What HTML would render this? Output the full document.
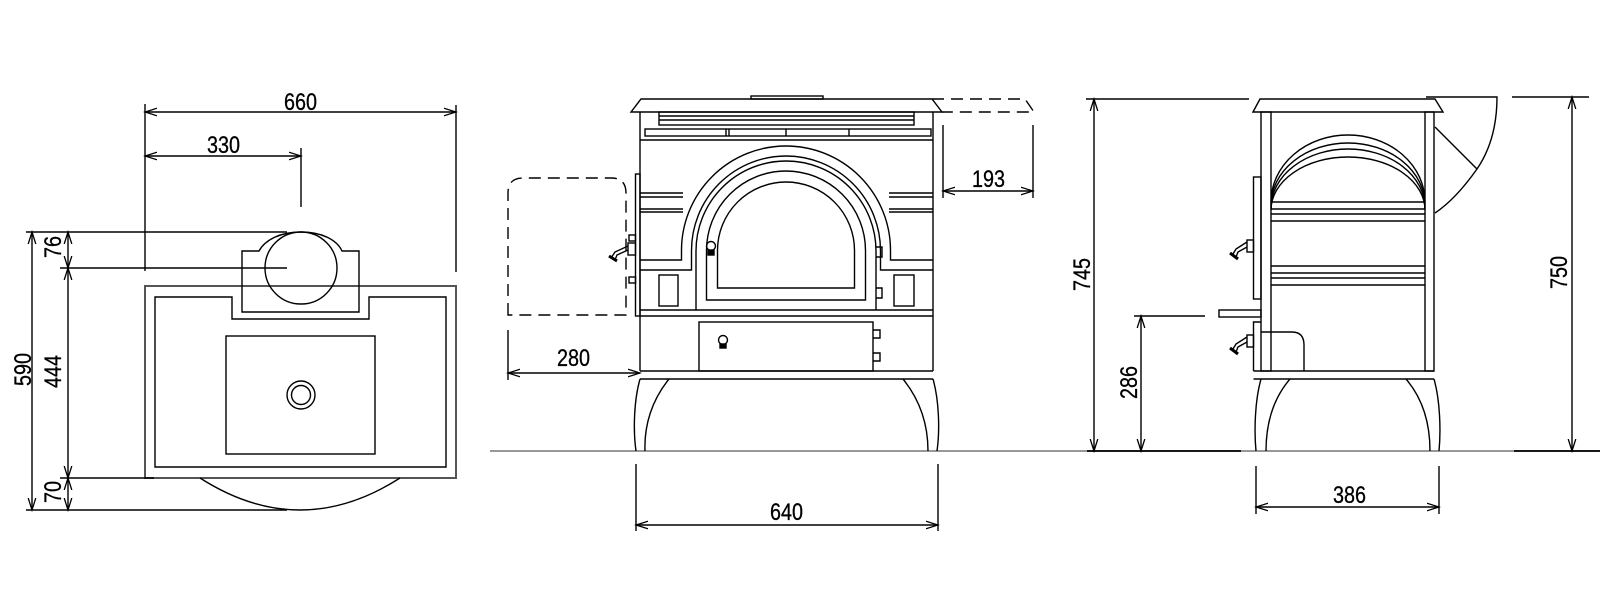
<!DOCTYPE html>
<html><head><meta charset="utf-8"><style>
html,body{margin:0;padding:0;background:#fff;}
svg{display:block;}
text{font-family:"Liberation Sans",sans-serif;font-size:24px;fill:#000;stroke:#000;stroke-width:0.3;}
</style></head><body>
<svg width="1600" height="600" viewBox="0 0 1600 600" xmlns="http://www.w3.org/2000/svg">
<defs>
<marker id="a" markerUnits="userSpaceOnUse" markerWidth="14" markerHeight="10" refX="12" refY="5" orient="auto-start-reverse" viewBox="0 0 14 10">
<path d="M0,1.2 L12,5 L0,8.8" fill="none" stroke="#000" stroke-width="1.3"/>
</marker>
</defs>
<g fill="none" stroke="#000" stroke-width="1.4">
<!-- ============ PLAN VIEW ============ -->
<g stroke="#555" stroke-width="2">
<rect x="145" y="286" width="311" height="192"/>
</g>
<path d="M155,297 H232 V319 H369 V297 H446 V467 H155 Z"/>
<path d="M242,251 H259 C265,240 280,232 301,232 C322,232 337,240 342,251 H359 V312 H242 Z"/>
<circle cx="301" cy="268" r="36"/>
<rect x="226" y="336" width="149" height="118"/>
<circle cx="301" cy="395" r="14"/>
<circle cx="301" cy="395" r="9.5"/>
<path d="M200,478 Q300,542 400,478"/>
<!-- dims -->
<line x1="145" y1="112" x2="456" y2="112" marker-start="url(#a)" marker-end="url(#a)"/>
<line x1="145" y1="156" x2="301" y2="156" marker-start="url(#a)" marker-end="url(#a)"/>
<line x1="145" y1="104" x2="145" y2="271"/>
<line x1="456" y1="105" x2="456" y2="272"/>
<line x1="301" y1="148" x2="301" y2="207"/>
<line x1="32" y1="232" x2="32" y2="510" marker-start="url(#a)" marker-end="url(#a)"/>
<line x1="68" y1="232" x2="68" y2="268" marker-start="url(#a)" marker-end="url(#a)"/>
<line x1="68" y1="268" x2="68" y2="478" marker-start="url(#a)" marker-end="url(#a)"/>
<line x1="68" y1="478" x2="68" y2="510" marker-start="url(#a)" marker-end="url(#a)"/>
<line x1="26" y1="232" x2="287" y2="232"/>
<line x1="60" y1="268" x2="287" y2="268"/>
<line x1="60" y1="478" x2="154" y2="478"/>
<line x1="26" y1="510" x2="287" y2="510"/>

<!-- ============ FRONT VIEW ============ -->
<line x1="490" y1="451" x2="1600" y2="451" stroke="#777" stroke-width="1.5"/>
<path d="M631,112 L641,99 H932 L942,112 Z"/>
<rect x="751" y="96" width="72" height="3"/>
<path d="M932,99 H1025 L1034,112 H942" stroke-dasharray="12,7"/>
<line x1="640" y1="112" x2="640" y2="371"/>
<line x1="933" y1="112" x2="933" y2="371"/>
<rect x="659" y="112" width="255" height="13"/>
<line x1="659" y1="116" x2="914" y2="116"/>
<line x1="659" y1="120" x2="914" y2="120"/>
<rect x="645" y="129" width="286" height="7"/>
<line x1="726" y1="129" x2="726" y2="136"/><line x1="729" y1="129" x2="729" y2="136"/>
<line x1="786" y1="129" x2="786" y2="136"/>
<line x1="849" y1="129" x2="849" y2="136"/>
<line x1="640" y1="140" x2="933" y2="140"/>
<!-- side bands -->
<line x1="640" y1="193" x2="683" y2="193"/><line x1="640" y1="197" x2="683" y2="197"/>
<line x1="640" y1="209" x2="683" y2="209"/><line x1="640" y1="212" x2="683" y2="212"/>
<line x1="889" y1="193" x2="933" y2="193"/><line x1="889" y1="197" x2="933" y2="197"/>
<line x1="889" y1="209" x2="933" y2="209"/><line x1="889" y1="212" x2="933" y2="212"/>
<!-- arches -->
<path d="M640,260 H681.5 V250.5 A104.5,104.5 0 0 1 890.5,250.5 V260 H933"/>
<path d="M640,270 H691.5 V250.5 A94.5,94.5 0 0 1 880.5,250.5 V270 H933"/>
<path d="M696,310 V251 A90,90 0 0 1 876,251 V310"/>
<path d="M706.5,300 V250.5 A79.5,79.5 0 0 1 865.5,250.5 V300 Z"/>
<path d="M717.5,288 V250.5 A68.5,68.5 0 0 1 854.5,250.5 V288 Z"/>
<line x1="640" y1="310" x2="933" y2="310"/>
<line x1="640" y1="316" x2="933" y2="316"/>
<rect x="659" y="275" width="19" height="31"/>
<rect x="894" y="275" width="20" height="31"/>
<!-- door hinges -->
<path d="M876,247 H882 V257 H876"/>
<path d="M876,288 H882 V298 H876"/>
<!-- door handle -->
<circle cx="711" cy="246" r="4.5"/><rect x="708" y="250" width="6" height="5" fill="#000"/>
<!-- drawer -->
<rect x="699" y="322" width="174" height="49"/>
<path d="M873,330 H880 V338 H873"/>
<path d="M873,353 H880 V361 H873"/>
<circle cx="723" cy="340" r="4.5"/><rect x="720" y="344" width="6" height="4" fill="#000"/>
<line x1="640" y1="371" x2="933" y2="371"/>
<line x1="640" y1="379" x2="933" y2="379"/>
<!-- side door panel -->
<rect x="635.5" y="174" width="4.5" height="142"/>
<rect x="629" y="235" width="6.5" height="6"/>
<rect x="629" y="277" width="6.5" height="6"/>
<rect x="628" y="243" width="7.5" height="12"/>
<path d="M628,246 L615,252 L611,258 M628,250 L617,255 L615,260"/>
<path d="M609,256 L617,261" stroke-width="3"/>
<path d="M508,315 V193 Q508,178 523,178 H611 Q626,178 626,193 V315 Z" stroke-dasharray="12,7"/>
<!-- legs -->
<path d="M640,379 C634,400 633,430 636,451 M669,379 C652,400 644,425 645,451"/>
<path d="M903,379 C920,400 928,425 928,451 M933,379 C939,400 940,430 937,451"/>
<!-- dims -->
<line x1="508" y1="330" x2="508" y2="380"/>
<line x1="508" y1="373" x2="640" y2="373" marker-start="url(#a)" marker-end="url(#a)"/>
<line x1="943" y1="125" x2="943" y2="198"/>
<line x1="1033" y1="125" x2="1033" y2="198"/>
<line x1="943" y1="191" x2="1033" y2="191" marker-start="url(#a)" marker-end="url(#a)"/>
<line x1="636" y1="464" x2="636" y2="531"/>
<line x1="938" y1="464" x2="938" y2="531"/>
<line x1="636" y1="525" x2="938" y2="525" marker-start="url(#a)" marker-end="url(#a)"/>

<!-- ============ SIDE VIEW ============ -->
<line x1="1087" y1="451" x2="1241" y2="451" stroke-width="1.8"/>
<line x1="1514" y1="451" x2="1600" y2="451" stroke-width="1.8"/>
<path d="M1253,112 L1260,99 H1435 L1443,112 Z"/>
<rect x="1261" y="112" width="10" height="259"/>
<rect x="1425" y="112" width="9" height="259"/>
<path d="M1271,202 A77,67 0 0 1 1425,202"/>
<path d="M1271,205 A77,62 0 0 1 1425,205"/>
<path d="M1271,208 A77,59 0 0 1 1425,208"/>
<path d="M1271,210 A77,53 0 0 1 1425,210"/>
<line x1="1271" y1="202" x2="1425" y2="202"/><line x1="1271" y1="209" x2="1425" y2="209"/>
<line x1="1271" y1="214" x2="1425" y2="214"/><line x1="1271" y1="221" x2="1425" y2="221"/>
<line x1="1271" y1="266" x2="1425" y2="266"/><line x1="1271" y1="273" x2="1425" y2="273"/>
<line x1="1271" y1="278" x2="1425" y2="278"/><line x1="1271" y1="285" x2="1425" y2="285"/>
<rect x="1253.5" y="177" width="7.5" height="122"/>
<rect x="1219" y="310" width="42" height="7"/>
<path d="M1261,322 H1253.5 V371"/>
<path d="M1261,332 H1292 Q1304,332 1304,345 V371"/>
<line x1="1253.5" y1="371" x2="1434" y2="371"/>
<line x1="1253.5" y1="379" x2="1434" y2="379"/>
<!-- handles -->
<rect x="1247" y="240" width="6.5" height="12"/>
<path d="M1247,242 L1236,249 L1233,254 M1247,247 L1238,252 L1236,257"/>
<path d="M1230,253 L1238,259" stroke-width="3"/>
<rect x="1247" y="335" width="6.5" height="12"/>
<path d="M1247,337 L1236,344 L1233,349 M1247,342 L1238,347 L1236,352"/>
<path d="M1230,348 L1238,354" stroke-width="3"/>
<!-- flue -->
<path d="M1426,97 H1497 C1497,125 1490,150 1477,169 C1465,186 1450,203 1435,213"/>
<line x1="1435" y1="127" x2="1477" y2="169"/>
<!-- legs -->
<path d="M1261,379 C1255,400 1254,430 1256,451 M1290,379 C1272,400 1266,425 1266,451"/>
<path d="M1406,379 C1424,400 1430,425 1430,451 M1434,379 C1440,400 1441,430 1439,451"/>
<!-- dims -->
<line x1="1086" y1="99" x2="1249" y2="99"/>
<line x1="1094" y1="99" x2="1094" y2="451" marker-start="url(#a)" marker-end="url(#a)"/>
<line x1="1134" y1="316" x2="1205" y2="316"/>
<line x1="1141" y1="316" x2="1141" y2="451" marker-start="url(#a)" marker-end="url(#a)"/>
<line x1="1512" y1="97" x2="1589" y2="97"/>
<line x1="1572" y1="97" x2="1572" y2="451" marker-start="url(#a)" marker-end="url(#a)"/>
<line x1="1256" y1="466" x2="1256" y2="514"/>
<line x1="1439" y1="466" x2="1439" y2="514"/>
<line x1="1256" y1="507" x2="1439" y2="507" marker-start="url(#a)" marker-end="url(#a)"/>
</g>
<!-- texts -->
<text x="284" y="110" textLength="33" lengthAdjust="spacingAndGlyphs">660</text>
<text x="207" y="153" textLength="33" lengthAdjust="spacingAndGlyphs">330</text>
<text transform="translate(31,370) rotate(-90)" x="-16" y="0" textLength="33" lengthAdjust="spacingAndGlyphs">590</text>
<text transform="translate(61,248) rotate(-90)" x="-10" y="0" textLength="22" lengthAdjust="spacingAndGlyphs">76</text>
<text transform="translate(61,372) rotate(-90)" x="-16" y="0" textLength="33" lengthAdjust="spacingAndGlyphs">444</text>
<text transform="translate(61,493) rotate(-90)" x="-10" y="0" textLength="22" lengthAdjust="spacingAndGlyphs">70</text>
<text x="557" y="366" textLength="33" lengthAdjust="spacingAndGlyphs">280</text>
<text x="972" y="187" textLength="33" lengthAdjust="spacingAndGlyphs">193</text>
<text x="770" y="520" textLength="33" lengthAdjust="spacingAndGlyphs">640</text>
<text transform="translate(1090,275) rotate(-90)" x="-16" y="0" textLength="33" lengthAdjust="spacingAndGlyphs">745</text>
<text transform="translate(1137,383) rotate(-90)" x="-16" y="0" textLength="33" lengthAdjust="spacingAndGlyphs">286</text>
<text transform="translate(1567,273) rotate(-90)" x="-16" y="0" textLength="33" lengthAdjust="spacingAndGlyphs">750</text>
<text x="1333" y="503" textLength="33" lengthAdjust="spacingAndGlyphs">386</text>
</svg>
</body></html>
